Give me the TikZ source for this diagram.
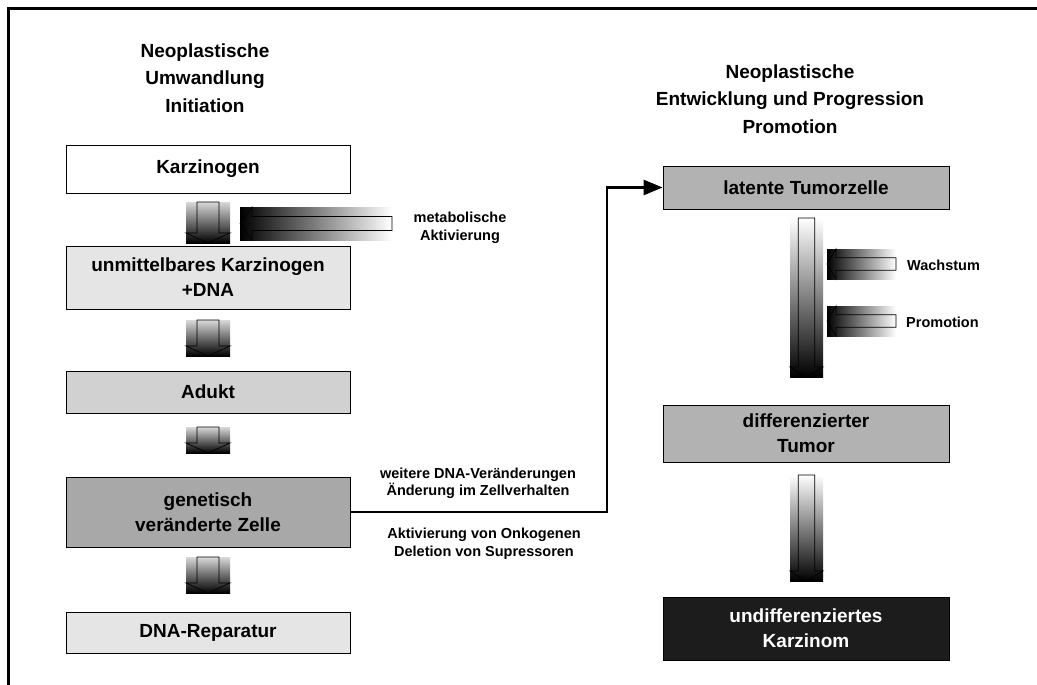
\documentclass[tikz,border=0pt]{standalone}
\usepackage{fontspec}
\setmainfont{Liberation Sans}
\usetikzlibrary{arrows.meta,shadows}
\newcommand\boxfnt{\fontsize{19}{25}\selectfont\bfseries}
\newcommand\titlefnt{\fontsize{19}{27.5}\selectfont\bfseries}
\newcommand\lblfnt{\fontsize{14.5}{17.5}\selectfont\bfseries}
% down arrow: x-left, y-top, x-right, y-bottom, top colour
\newcommand\darrow[5]{%
  \shade[top color=#5,bottom color=black] (#1,#2) rectangle (#3,#4);
  \draw[line width=0.7pt] ({#1+0.25*(#3-#1)},#2) -- ({#1+0.25*(#3-#1)},{#4-10}) -- (#1,{#4-10}) -- ({(#1+#3)/2},#4) -- (#3,{#4-10}) -- ({#3-0.25*(#3-#1)},{#4-10}) -- ({#3-0.25*(#3-#1)},#2) -- cycle;}
% left arrow: x-left, y-top, x-right, y-bottom, head length
\newcommand\larrow[5]{%
  \shade[left color=black,right color=white] (#1,#2) rectangle (#3,#4);
  \draw[line width=0.7pt] (#3,{#2+0.29*(#4-#2)}) -- ({#1+#5},{#2+0.29*(#4-#2)}) -- ({#1+#5},#2) -- (#1,{(#2+#4)/2}) -- ({#1+#5},#4) -- ({#1+#5},{#4-0.29*(#4-#2)}) -- (#3,{#4-0.29*(#4-#2)}) -- cycle;}
\begin{document}
\begin{tikzpicture}[x=1pt,y=-1pt,
  box/.style={draw=black,line width=0.8pt,align=center,font=\boxfnt,
    drop shadow={shadow xshift=1.3pt,shadow yshift=-1.3pt,fill=black!75,opacity=1}},
  lbox/.style={box,minimum width=284pt},
  rbox/.style={box,minimum width=286pt},
  title/.style={align=center,font=\titlefnt,inner sep=0pt},
  lbl/.style={align=center,font=\lblfnt,inner sep=0pt},
  conn/.style={line width=2.7pt,-{Triangle[length=19pt,width=15pt]}}]
\useasboundingbox (0,0) rectangle (1037,685);
\fill[white] (0,0) rectangle (1037,685);
% frame
\draw[line width=3pt] (8.5,685) -- (8.5,8.5) -- (1040,8.5);
% titles
\node[title] (tl) at (205,78) {Neoplastische\\Umwandlung\\Initiation};
\node[title] (tr) at (790,99) {Neoplastische\\Entwicklung und Progression\\Promotion};
% left column
\node[lbox,fill=white,minimum height=48pt] (karz) at (208,169) {Karzinogen};
\node[lbox,fill=black!10,minimum height=63pt] (unm) at (208,277.5) {unmittelbares Karzinogen\\+DNA};
\node[lbox,fill=black!18,minimum height=42pt] (adukt) at (208,392) {Adukt};
\node[lbox,fill=black!34,minimum height=70pt] (gen) at (208,512) {genetisch\\veränderte Zelle};
\node[lbox,fill=black!10,minimum height=41pt] (rep) at (208,632.5) {DNA-Reparatur};
\darrow{186}{202}{230}{243}{black!15}
\darrow{186}{320}{230}{356}{black!15}
\darrow{186}{427}{230}{453}{black!15}
\darrow{186}{557}{230}{593}{black!15}
\larrow{240}{207}{392}{240}{12}
\node[lbl] (meta) at (460,228) {metabolische\\Aktivierung};
% right column
\node[rbox,fill=black!30,minimum height=43pt] (lat) at (806,187.5) {latente Tumorzelle};
\node[rbox,fill=black!30,minimum height=57pt] (diff) at (806,433.5) {differenzierter\\Tumor};
\node[rbox,fill=black!89,text=white,minimum height=63pt] (undiff) at (806,628.5) {undifferenziertes\\Karzinom};
\darrow{790}{218}{823}{377}{white}
\darrow{790}{475}{823}{581}{white}
\larrow{827}{249}{896}{279}{9}
\larrow{827}{306}{896}{336}{9}
\node[lbl,anchor=west] (wachs) at (907,265) {Wachstum};
\node[lbl,anchor=west] (promo) at (906,322) {Promotion};
% connector
\draw[conn] (gen.east) -- (607,512) |- (lat.west);
\node[lbl] (wdna) at (478,483.5) {weitere DNA-Veränderungen\\Änderung im Zellverhalten};
\node[lbl] (akt) at (484,543.5) {Aktivierung von Onkogenen\\Deletion von Supressoren};
\end{tikzpicture}
\end{document}
